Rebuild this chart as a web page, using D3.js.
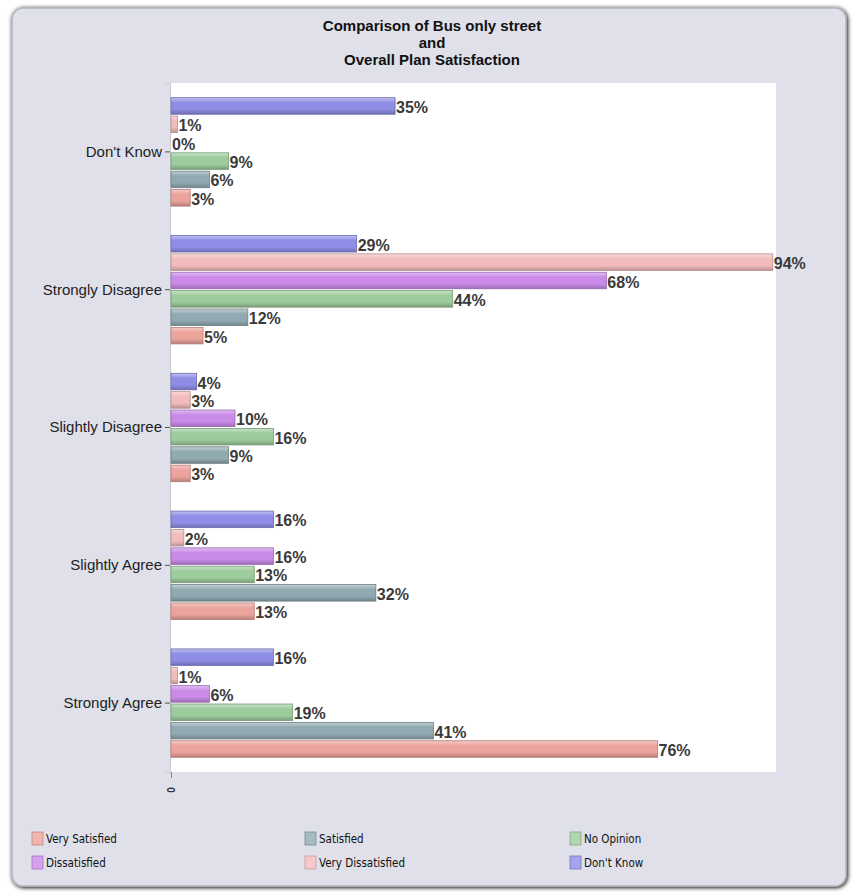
<!DOCTYPE html>
<html>
<head>
<meta charset="utf-8">
<script src="https://cdn.jsdelivr.net/npm/d3@7/dist/d3.min.js"></script>
<style>
  body { margin: 0; background: #fff; }
  svg { display: block; }
</style>
</head>
<body>
<div id="graph"></div>
<script>
// categories, top to bottom
var categories = ["Don't Know", "Strongly Disagree", "Slightly Disagree", "Slightly Agree", "Strongly Agree"];

// series, drawn top to bottom inside each group
var seriesNames = ["Don't Know", "Very Dissatisfied", "Dissatisfied", "No Opinion", "Satisfied", "Very Satisfied"];

// percentages per category (same order as categories)
var dontKnow         = [35, 29, 4, 16, 16];
var veryDissatisfied = [1, 94, 3, 2, 1];
var dissatisfied     = [0, 68, 10, 16, 6];
var noOpinion        = [9, 44, 16, 13, 19];
var satisfied        = [6, 12, 9, 32, 41];
var verySatisfied    = [3, 5, 3, 13, 76];

// legend order (row by row)
var legendNames = ["Very Satisfied", "Satisfied", "No Opinion", "Dissatisfied", "Very Dissatisfied", "Don't Know"];

var xTicks = [0];

var titleLines = ["Comparison of Bus only street", "and", "Overall Plan Satisfaction"];

var colors = {
    "Very Satisfied": "#eba39b",
    "Satisfied": "#91a9b1",
    "No Opinion": "#9ccb9c",
    "Dissatisfied": "#c98ae8",
    "Very Dissatisfied": "#f2bcbc",
    "Don't Know": "#8e8ee6"
};

var seriesValues = {
    "Don't Know": dontKnow,
    "Very Dissatisfied": veryDissatisfied,
    "Dissatisfied": dissatisfied,
    "No Opinion": noOpinion,
    "Satisfied": satisfied,
    "Very Satisfied": verySatisfied
};

// flat table for drawing
var rows = [];
categories.forEach(function(c, i) {
    seriesNames.forEach(function(s) {
        rows.push({category: c, series: s, value: seriesValues[s][i]});
    });
});

var W = 856, H = 894;
var svg = d3.select("#graph").append("svg")
    .attr("width", W)
    .attr("height", H);

var defs = svg.append("defs");

// panel shadow
var shadow = defs.append("filter").attr("id", "shadow")
    .attr("x", "-5%").attr("y", "-5%").attr("width", "110%").attr("height", "110%");
shadow.append("feGaussianBlur").attr("in", "SourceAlpha").attr("stdDeviation", 2);
shadow.append("feOffset").attr("dx", 1).attr("dy", 1).attr("result", "off");
var merge = shadow.append("feMerge");
merge.append("feMergeNode").attr("in", "off");
merge.append("feMergeNode").attr("in", "SourceGraphic");

// one vertical gradient per series, light on top, darker at bottom
seriesNames.forEach(function(s, i) {
    var base = d3.color(colors[s]);
    var g = defs.append("linearGradient").attr("id", "grad" + i)
        .attr("x1", 0).attr("y1", 0).attr("x2", 0).attr("y2", 1);
    g.append("stop").attr("offset", "0%").attr("stop-color", d3.interpolateRgb(base, "#fff")(0.45));
    g.append("stop").attr("offset", "30%").attr("stop-color", base.formatHex());
    g.append("stop").attr("offset", "70%").attr("stop-color", base.formatHex());
    g.append("stop").attr("offset", "100%").attr("stop-color", base.darker(0.7).formatHex());
});

// background panel
svg.append("rect")
    .attr("x", 12).attr("y", 8)
    .attr("width", 834).attr("height", 878)
    .attr("rx", 11)
    .attr("fill", "#dfe0e9")
    .attr("stroke", "#b4b5bd")
    .attr("stroke-width", 1.5)
    .attr("filter", "url(#shadow)");

var margin = {top: 83, right: 80, bottom: 122, left: 171};
var plotW = W - margin.left - margin.right,
    plotH = H - margin.top - margin.bottom;

// white plot area
svg.append("rect")
    .attr("x", margin.left).attr("y", margin.top)
    .attr("width", plotW).attr("height", plotH)
    .attr("fill", "#fff");

var x = d3.scaleLinear().domain([0, 94.5]).range([margin.left, margin.left + plotW]);

var y0 = d3.scaleBand().domain(categories)
    .range([margin.top, margin.top + plotH]);

var bw = y0.bandwidth();
var y1 = d3.scaleBand().domain(seriesNames)
    .range([bw * 0.1, bw * 0.9])
    .paddingInner(0.1)
    .paddingOuter(0.05);

// title
svg.append("g").selectAll("text")
    .data(titleLines)
    .enter().append("text")
    .attr("x", 432)
    .attr("y", function(d, i) { return 31 + i * 17; })
    .attr("text-anchor", "middle")
    .style("font-family", "'Liberation Sans', Arial, sans-serif")
    .style("font-weight", "bold")
    .style("font-size", "15px")
    .attr("fill", "#111")
    .text(function(d) { return d; });

// left axis (categories)
var yAxis = svg.append("g")
    .attr("transform", "translate(" + (margin.left - 1) + ",0)")
    .call(d3.axisLeft(y0).tickSize(5).tickPadding(3));
yAxis.select(".domain").attr("stroke", "#c8c9d2");
yAxis.selectAll(".tick line").attr("stroke", "#555");
yAxis.selectAll(".tick text")
    .style("font-family", "'Liberation Sans', Arial, sans-serif")
    .style("font-size", "15px")
    .attr("fill", "#222");

// bottom axis, only a zero tick
var xAxis = svg.append("g")
    .attr("transform", "translate(0," + (margin.top + plotH) + ")")
    .call(d3.axisBottom(x).tickValues(xTicks).tickSize(6).tickFormat(d3.format("d")));
xAxis.select(".domain").remove();
xAxis.selectAll(".tick line").attr("stroke", "#888");
xAxis.selectAll(".tick text")
    .attr("transform", "rotate(-90)")
    .attr("x", -18).attr("y", 0).attr("dy", "0.35em")
    .style("text-anchor", "middle")
    .style("font-family", "'Liberation Sans', Arial, sans-serif")
    .style("font-weight", "bold")
    .style("font-size", "10px")
    .attr("fill", "#333");

// bars
var groups = svg.append("g").selectAll("g")
    .data(categories)
    .enter().append("g")
    .attr("transform", function(c) { return "translate(0," + y0(c) + ")"; });

groups.selectAll("rect")
    .data(function(c) { return rows.filter(function(r) { return r.category === c; }); })
    .enter().append("rect")
    .attr("x", x(0))
    .attr("y", function(d) { return y1(d.series); })
    .attr("width", function(d) { return Math.max(0, x(d.value) - x(0)); })
    .attr("height", y1.bandwidth())
    .attr("fill", function(d) { return "url(#grad" + seriesNames.indexOf(d.series) + ")"; })
    .attr("stroke", function(d) { return d3.color(colors[d.series]).darker(0.8); })
    .attr("stroke-width", 0.8);

// value labels
groups.selectAll("text")
    .data(function(c) { return rows.filter(function(r) { return r.category === c; }); })
    .enter().append("text")
    .attr("x", function(d) { return x(d.value) + 1; })
    .attr("y", function(d) { return y1(d.series) + y1.bandwidth() / 2 + 7; })
    .style("font-family", "'Liberation Sans', Arial, sans-serif")
    .style("font-weight", "bold")
    .style("font-size", "16px")
    .attr("fill", "#3a3a3a")
    .text(function(d) { return d.value + "%"; });

// legend
var legendCols = [32, 305, 570];
var legend = svg.append("g").selectAll("g")
    .data(legendNames)
    .enter().append("g")
    .attr("transform", function(d, i) {
        return "translate(" + legendCols[i % 3] + "," + (832 + Math.floor(i / 3) * 24) + ")";
    });

legend.append("rect")
    .attr("width", 11).attr("height", 13)
    .attr("fill", function(d) { return d3.interpolateRgb(colors[d], "#fff")(0.2); })
    .attr("stroke", function(d) { return d3.color(colors[d]).darker(0.5); })
    .attr("stroke-width", 0.8);

legend.append("text")
    .attr("x", 14).attr("y", 11)
    .style("font-family", "'DejaVu Sans Condensed', 'DejaVu Sans', sans-serif")
    .style("font-stretch", "condensed")
    .style("font-size", "11.5px")
    .attr("fill", "#111")
    .text(function(d) { return d; });
</script>
</body>
</html>
